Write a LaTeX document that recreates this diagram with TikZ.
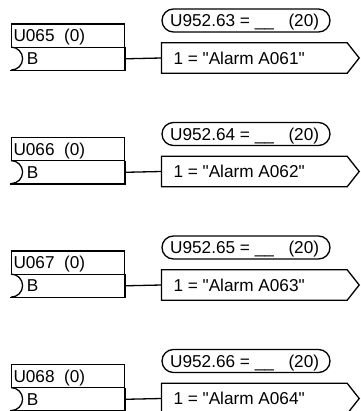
\documentclass[tikz,border=0pt]{standalone}
\usepackage{fontspec}
\setmainfont{Liberation Sans}[Ligatures=TeXOff]
\begin{document}
\begin{tikzpicture}[x=1pt,y=-1pt,
  every node/.style={font=\fontsize{17.2}{20}\selectfont},
  txt/.style={inner sep=0pt,anchor=base west},
  txtr/.style={inner sep=0pt,anchor=base east},
  rowbox/.style={draw,line width=1.3pt,minimum width=113.4pt,minimum height=23.3pt,inner sep=0pt},
  rowfree/.style={minimum width=113.4pt,minimum height=23pt,inner sep=0pt},
  alarmbox/.style={minimum width=185.3pt,minimum height=30pt,inner sep=0pt},
  pill/.style={draw,line width=1.3pt,rounded corners=11.5pt,minimum width=168pt,minimum height=23pt,inner sep=0pt},
  wire/.style={line width=1.3pt}]
\useasboundingbox (0,0) rectangle (360,411);
\foreach \i/\u/\p/\al in {0/065/63/061,1/066/64/062,2/067/65/063,3/068/66/064}{
  \pgfmathsetmacro{\yy}{113.5*\i}
  % parameter box
  \node[rowbox] (u\i) at (68,35.65+\yy) {};
  \node[txt] (ut\i) at (13.3,41.7+\yy) {U\u\ \ (0)};
  \node[rowfree] (b\i) at (68,58.8+\yy) {};
  \draw[wire,line join=miter] (b\i.north east) -- (b\i.south east) -- ([xshift=-1pt]b\i.south west);
  \draw[wire] (b\i.north west) arc[start angle=90,end angle=-90,radius=11.5pt];
  \node[txt] (bt\i) at (26.7,64.9+\yy) {B};
  % pill
  \node[pill] (p\i) at (246,20.5+\yy) {};
  \node[txt] (pt\i) at (170,26.6+\yy) {U952.\p\ = \_\_};
  \node[txtr] (pr\i) at (319.3,26.6+\yy) {(20)};
  % alarm box
  \node[alarmbox] (a\i) at (254.35,58+\yy) {};
  \draw[wire,line join=miter] (a\i.north west) -- (a\i.north east) -- ([xshift=12pt]a\i.east) -- (a\i.south east) -- (a\i.south west) -- cycle;
  \node[txt] (at\i) at (173.3,64.1+\yy) {1 = "Alarm A\al"};
  % connector
  \draw[wire] (b\i.east) -- (a\i.west);
}
\end{tikzpicture}
\end{document}
